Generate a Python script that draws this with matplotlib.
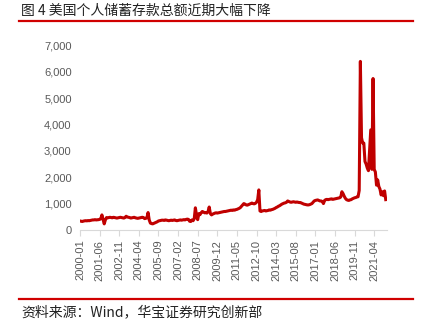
import matplotlib.pyplot as plt
from matplotlib.lines import Line2D
from matplotlib.ticker import FuncFormatter

# US personal saving, monthly, 2000-01 .. 2022-02
y2000 = [340, 330, 320, 335, 345, 350, 345, 355, 350, 360, 370, 380]
y2001 = [380, 390, 380, 385, 390, 400, 420, 570, 400, 230, 380, 470]
y2002 = [460, 470, 480, 470, 460, 480, 470, 460, 450, 460, 470, 480]
y2003 = [470, 460, 450, 470, 520, 490, 480, 470, 450, 460, 470, 480]
y2004 = [460, 450, 440, 450, 460, 470, 480, 470, 430, 440, 460, 660]
y2005 = [380, 260, 240, 230, 250, 270, 290, 310, 340, 350, 360, 370]
y2006 = [370, 360, 380, 370, 360, 350, 360, 370, 360, 370, 380, 360]
y2007 = [350, 360, 370, 380, 370, 380, 390, 380, 400, 410, 400, 330]
y2008 = [320, 380, 350, 420, 840, 560, 390, 620, 580, 650, 700, 680]
y2009 = [650, 660, 640, 700, 870, 620, 570, 600, 620, 640, 650, 640]
y2010 = [650, 660, 670, 680, 690, 700, 700, 710, 720, 730, 740, 750]
y2011 = [740, 760, 750, 770, 780, 800, 820, 850, 900, 950, 1000, 980]
y2012 = [950, 940, 960, 980, 1000, 1020, 1000, 990, 1010, 1050, 1150, 1520]
y2013 = [720, 700, 720, 730, 740, 720, 730, 740, 760, 750, 770, 780]
y2014 = [800, 820, 850, 870, 900, 920, 950, 980, 1000, 1020, 1030, 1050]
y2015 = [1100, 1080, 1060, 1050, 1060, 1070, 1060, 1050, 1060, 1050, 1040, 1040]
y2016 = [1020, 1000, 980, 970, 960, 950, 950, 960, 980, 1000, 1050, 1100]
y2017 = [1120, 1130, 1140, 1120, 1100, 1100, 1080, 1000, 1120, 1150, 1160, 1150]
y2018 = [1160, 1170, 1180, 1160, 1170, 1180, 1190, 1200, 1210, 1220, 1250, 1450]
y2019 = [1380, 1280, 1200, 1150, 1130, 1120, 1140, 1150, 1180, 1200, 1220, 1230]
y2020 = [1250, 1260, 1500, 6400, 3500, 3300, 3300, 2600, 2500, 2350, 2250, 3000]
y2021 = [3800, 2300, 5750, 2300, 2200, 1700, 1900, 1650, 1550, 1330, 1450, 1300]
y2022 = [1480, 1150]

values = (y2000 + y2001 + y2002 + y2003 + y2004 + y2005 + y2006 + y2007 + y2008
          + y2009 + y2010 + y2011 + y2012 + y2013 + y2014 + y2015 + y2016
          + y2017 + y2018 + y2019 + y2020 + y2021 + y2022)
months = [f"{2000 + i // 12}-{i % 12 + 1:02d}" for i in range(len(values))]
tick_idx = list(range(0, len(values), 17))

plt.rcParams['font.family'] = ['Liberation Sans', 'Noto Sans CJK SC', 'DejaVu Sans']

fig = plt.figure(figsize=(4.21, 3.28), dpi=100)
ax = fig.add_axes([0.19, 0.299, 0.729, 0.562])

ax.plot(range(len(values)), values, color='#C00000', lw=2.2, solid_joinstyle='round')

ax.set_xlim(0, len(values))
ax.set_ylim(0, 7000)
ax.set_yticks(range(0, 7001, 1000))
ax.yaxis.set_major_formatter(FuncFormatter(lambda v, p: f"{int(v):,}"))
ax.set_xticks(tick_idx)
ax.set_xticklabels([months[i] for i in tick_idx], rotation=90)

for s in ['top', 'right', 'left']:
    ax.spines[s].set_visible(False)
ax.spines['bottom'].set_color('#D9D9D9')
ax.tick_params(axis='y', length=0, labelsize=8, labelcolor='#595959', pad=6)
ax.tick_params(axis='x', length=4, color='#D9D9D9', labelsize=8, labelcolor='#595959', pad=3)

# title, source and red rules
fig.text(0.05, 0.968, "图 4 美国个人储蓄存款总额近期大幅下降", fontsize=10,
         family=['Noto Sans CJK SC', 'DejaVu Sans'], color='#222222', va='center')
fig.add_artist(Line2D([0.045, 0.981], [0.937, 0.937], color='#D00000', lw=1.6))
fig.add_artist(Line2D([0.045, 0.981], [0.088, 0.088], color='#D00000', lw=1.6))
fig.text(0.05, 0.049, "资料来源：Wind，华宝证券研究创新部", fontsize=10,
         family=['Noto Sans CJK SC', 'DejaVu Sans'], color='#222222', va='center')

fig.savefig("out.png", dpi=100)
